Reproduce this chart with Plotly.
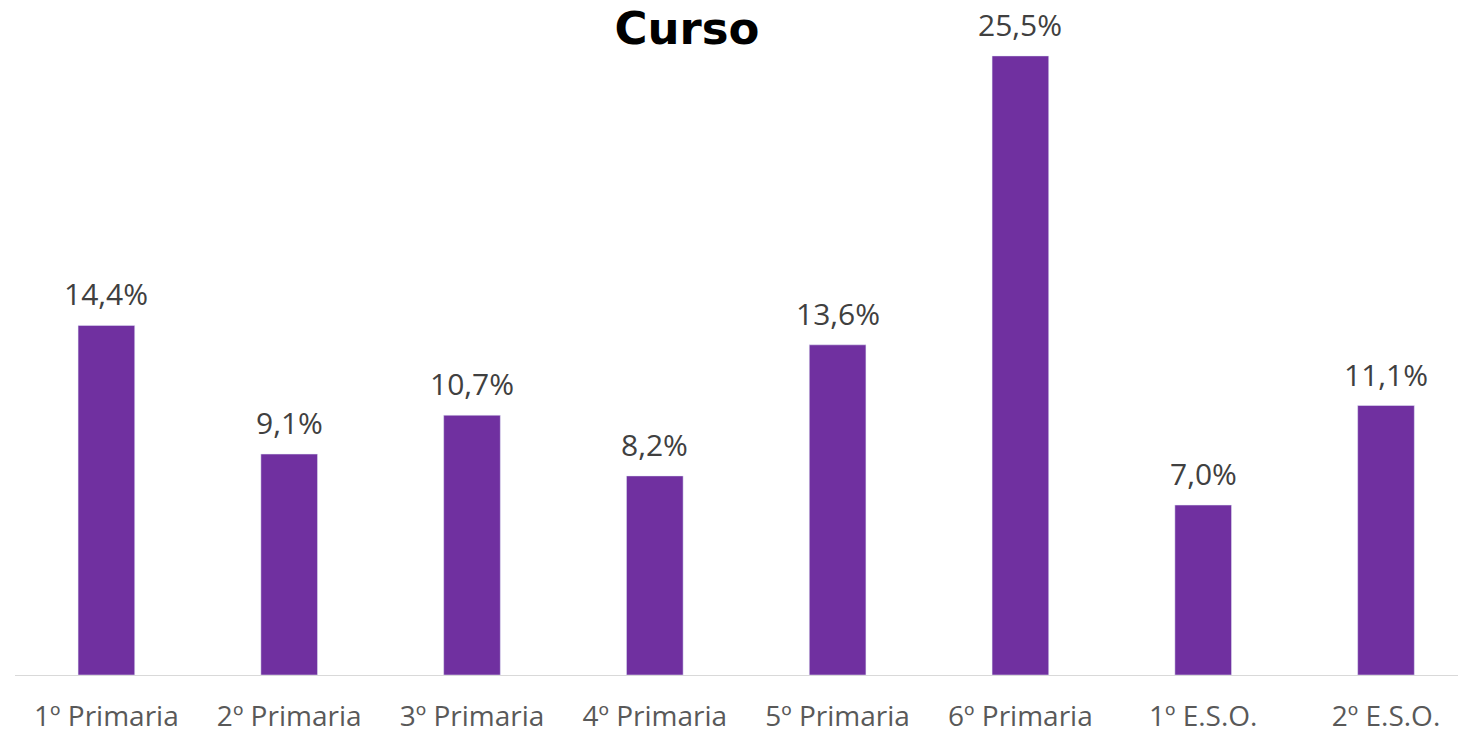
import plotly.graph_objects as go

categories = ["1º Primaria", "2º Primaria", "3º Primaria", "4º Primaria",
              "5º Primaria", "6º Primaria", "1º E.S.O.", "2º E.S.O."]
values = [14.4, 9.1, 10.7, 8.2, 13.6, 25.5, 7.0, 11.1]

W, H = 1458, 734
BAR_COLOR = "#7030A0"
BASE_Y = 677          # baseline, in pixels from top
PX_PER_UNIT = 24.35   # pixels per percentage point
CAT_W = 182.8         # pixels per category slot
LEFT = 15

fig = go.Figure()
fig.add_trace(go.Bar(
    x=categories, y=values, marker_color=BAR_COLOR, width=0.31,
    hoverinfo="skip",
))

for c, v in zip(categories, values):
    fig.add_annotation(
        x=c, y=v, xref="x", yref="y",
        text=f"{v:.1f}".replace(".", ",") + "%",
        showarrow=False, yanchor="bottom", yshift=9,
        font=dict(family="Open Sans", size=30, color="#404040"),
    )

fig.update_layout(
    width=W, height=H,
    margin=dict(l=LEFT, r=0, t=0, b=H - BASE_Y),
    paper_bgcolor="white", plot_bgcolor="white",
    showlegend=False,
    title=dict(
        text="<b>Curso</b>", x=687 / W, xref="container", xanchor="center",
        y=1 - 28 / H, yref="container", yanchor="middle",
        font=dict(family="DejaVu Sans", size=45, color="black"),
    ),
)
fig.update_xaxes(
    range=[-0.5, -0.5 + (W - LEFT) / CAT_W],
    showline=True, linecolor="#D9D9D9", linewidth=1,
    showgrid=False, zeroline=False,
    ticks="outside", ticklen=16, tickcolor="rgba(0,0,0,0)",
    tickfont=dict(family="Open Sans", size=28, color="#595959"),
)
fig.update_yaxes(
    range=[0, BASE_Y / PX_PER_UNIT], visible=False, showgrid=False, zeroline=False,
)

fig.write_html(
    "out.html",
    config={"displayModeBar": False, "staticPlot": True},
    post_script="document.body.style.margin='0';document.body.style.overflow='hidden';",
)
